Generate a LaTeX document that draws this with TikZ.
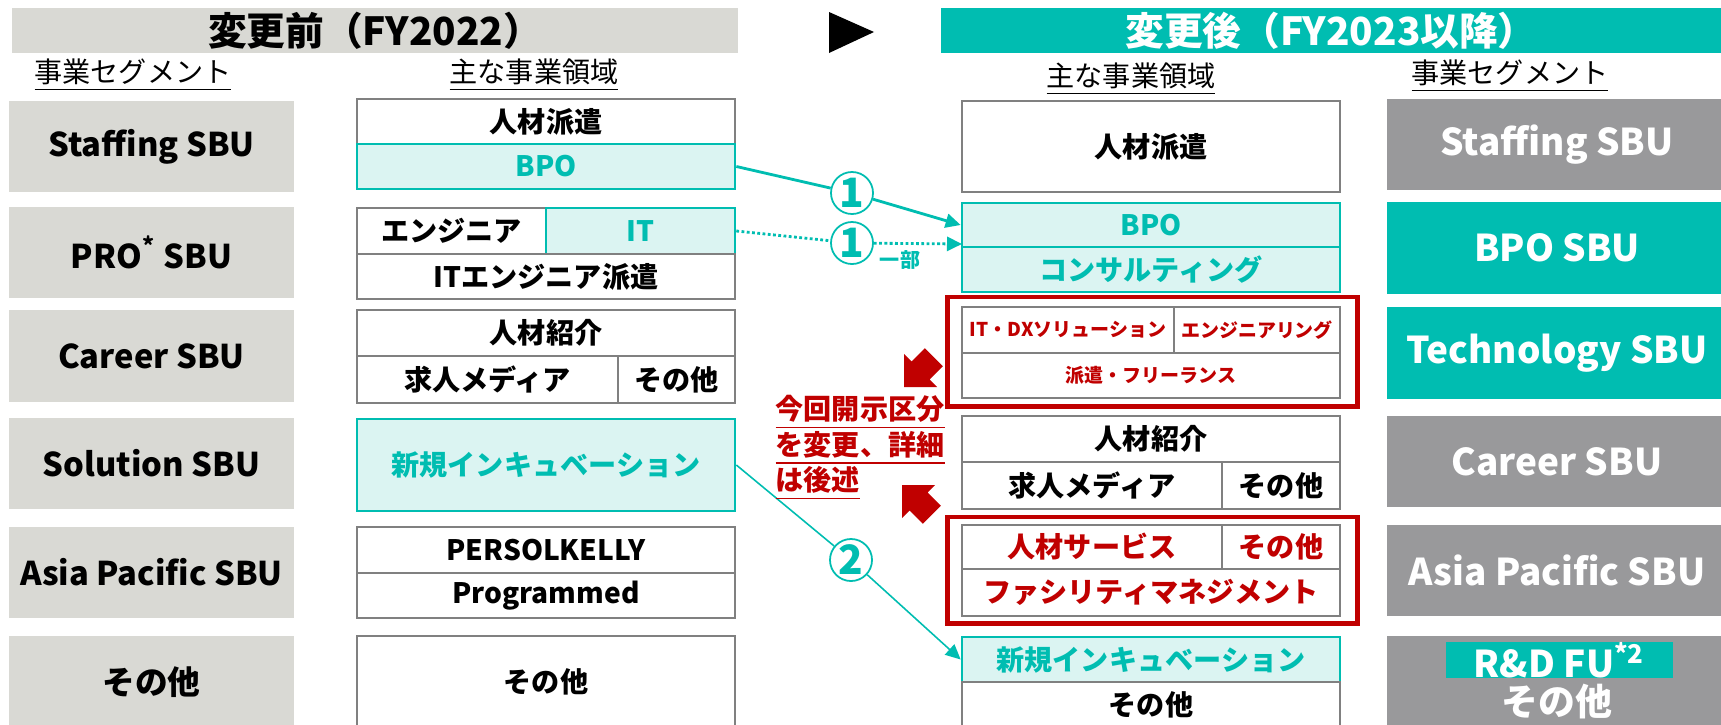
\documentclass[tikz,border=0pt]{standalone}
\usepackage{fontspec}
\setmainfont{Noto Sans CJK JP}
\usetikzlibrary{arrows.meta}
\definecolor{segfill}{RGB}{217,217,212}
\definecolor{segdark}{RGB}{153,153,155}
\definecolor{tealc}{RGB}{0,189,177}
\definecolor{teallt}{RGB}{219,244,242}
\definecolor{redc}{RGB}{192,0,0}
\definecolor{cellline}{RGB}{128,128,128}
\tikzset{
  lseg/.style={fill=segfill, inner sep=0pt, minimum width=2.85cm, minimum height=0.91cm, font=\fontsize{9.3}{11}\selectfont\bfseries},
  rseg/.style={fill=segdark, text=white, inner sep=0pt, minimum width=3.40cm, minimum height=0.91cm, font=\fontsize{10.5}{12}\selectfont\bfseries},
  cell/.style={draw=cellline, fill=white, line width=0.7pt, inner sep=0pt, font=\fontsize{8}{10}\selectfont\bfseries},
  tcell/.style={cell, draw=tealc, fill=teallt, text=tealc},
  rcell/.style={cell, text=redc},
  small/.style={font=\fontsize{5.4}{7}\selectfont\bfseries},
  frame/.style={draw=redc, line width=1.4pt, inner sep=0pt},
  hd/.style={inner sep=0pt, minimum height=0.45cm, font=\fontsize{11}{12}\selectfont\bfseries},
  subhd/.style={font=\fontsize{8}{10}\selectfont},
  num/.style={circle, draw=tealc, line width=0.5pt, fill=white, text=tealc, minimum size=0.42cm, inner sep=0pt, font=\fontsize{11.5}{11.5}\selectfont\bfseries},
  move/.style={draw=tealc, line width=0.8pt},
  tip/.style={-{Triangle[length=0.15cm,width=0.14cm]}}
}
\begin{document}
\begin{tikzpicture}[x=0.01cm, y=-0.01cm]
\useasboundingbox (0,0) rectangle (1721,724);
\clip (0,0) rectangle (1721,724);
%headers
\node[hd, fill=segfill, minimum width=7.26cm] (preHd) at (375,30.5) {変更前（FY2022）};
\node[hd, fill=tealc, text=white, minimum width=7.80cm] (postHd) at (1331,30.5) {変更後（FY2023以降）};
\fill (829,12) -- (874,32) -- (829,53) -- cycle;
\node[subhd] (segL) at (133,75) {\underline{事業セグメント}};
\node[subhd] (domL) at (534,75) {\underline{主な事業領域}};
\node[subhd] (domR) at (1131,79) {\underline{主な事業領域}};
\node[subhd] (segR) at (1510,76) {\underline{事業セグメント}};
%before: segments
\node[lseg] (sL1) at (151.5,146.5) {Staffing SBU};
\node[lseg] (sL2) at (151.5,252.5) {PRO\textsuperscript{*} SBU};
\node[lseg] (sL3) at (151.5,356) {Career SBU};
\node[lseg] (sL4) at (151.5,463.5) {Solution SBU};
\node[lseg] (sL5) at (151.5,572.5) {Asia Pacific SBU};
\node[lseg, minimum height=0.92cm] (sL6) at (151.5,682) {その他};
%before: domains
\node[cell, minimum width=3.78cm, minimum height=0.45cm] (haken) at (546,121.5) {人材派遣};
\node[tcell, minimum width=3.78cm, minimum height=0.45cm] (bpoL) at (546,166.5) {BPO};
\node[cell, minimum width=1.89cm, minimum height=0.46cm] (eng) at (451.5,231) {エンジニア};
\node[tcell, minimum width=1.89cm, minimum height=0.46cm] (itL) at (640.5,231) {IT};
\node[cell, minimum width=3.78cm, minimum height=0.45cm] (iteng) at (546,276.5) {ITエンジニア派遣};
\node[cell, minimum width=3.78cm, minimum height=0.46cm] (shokai) at (546,333) {人材紹介};
\node[cell, minimum width=2.61cm, minimum height=0.47cm] (media) at (487.5,379.5) {求人メディア};
\node[cell, minimum width=1.17cm, minimum height=0.47cm] (etcC) at (676.5,379.5) {その他};
\node[tcell, minimum width=3.78cm, minimum height=0.92cm] (incL) at (546,465) {新規インキュベーション};
\node[cell, minimum width=3.78cm, minimum height=0.46cm] (pk) at (546,550) {PERSOLKELLY};
\node[cell, minimum width=3.78cm, minimum height=0.45cm] (prog) at (546,595.5) {Programmed};
\node[cell, minimum width=3.78cm, minimum height=0.92cm] (etcL) at (546,682) {その他};
%after: domains
\node[cell, minimum width=3.78cm, minimum height=0.91cm] (hakenR) at (1151,146.5) {人材派遣};
\node[tcell, minimum width=3.78cm, minimum height=0.44cm] (bpoR) at (1151,225) {BPO};
\node[tcell, minimum width=3.78cm, minimum height=0.45cm] (consul) at (1151,269.5) {コンサルティング};
\node[frame, minimum width=4.09cm, minimum height=1.09cm] (techBox) at (1152.5,351.5) {};
\node[rcell, small, minimum width=2.12cm, minimum height=0.46cm] (itdx) at (1068,330) {IT・DXソリューション};
\node[rcell, small, minimum width=1.66cm, minimum height=0.46cm] (engR) at (1257,330) {エンジニアリング};
\node[rcell, small, minimum width=3.78cm, minimum height=0.45cm] (free) at (1151,375.5) {派遣・フリーランス};
\node[cell, minimum width=3.78cm, minimum height=0.46cm] (shokaiR) at (1151,439) {人材紹介};
\node[cell, minimum width=2.60cm, minimum height=0.47cm] (mediaR) at (1092,485.5) {求人メディア};
\node[cell, minimum width=1.18cm, minimum height=0.47cm] (etcCR) at (1281,485.5) {その他};
\node[frame, minimum width=4.09cm, minimum height=1.06cm] (apBox) at (1152.5,570) {};
\node[rcell, minimum width=2.60cm, minimum height=0.44cm] (jinzai) at (1092,547) {人材サービス};
\node[rcell, minimum width=1.18cm, minimum height=0.44cm] (etcA) at (1281,547) {その他};
\node[rcell, minimum width=3.78cm, minimum height=0.47cm] (fm) at (1151,592.5) {ファシリティマネジメント};
\node[tcell, minimum width=3.78cm, minimum height=0.45cm] (incR) at (1151,659.5) {新規インキュベーション};
\node[cell, minimum width=3.78cm, minimum height=0.45cm] (etcR) at (1151,704.5) {その他};
%after: segments
\node[rseg] (sR1) at (1557,144.5) {Staffing SBU};
\node[rseg, fill=tealc] (sR2) at (1557,248) {BPO SBU};
\node[rseg, fill=tealc] (sR3) at (1557,353) {Technology SBU};
\node[rseg] (sR4) at (1557,461.5) {Career SBU};
\node[rseg] (sR5) at (1557,570.5) {Asia Pacific SBU};
\node[rseg, minimum height=0.92cm] (sR6) at (1557,682) {};
\node[rseg, fill=tealc, minimum width=2.27cm, minimum height=0.36cm] (rnd) at (1559.5,660) {R\&D FU\textsuperscript{*2}};
\node[text=white, inner sep=0pt, font=\fontsize{10.5}{12}\selectfont\bfseries] (etcS) at (1557,702) {その他};
%moves
\node[num] (n1a) at (852,193) {1};
\node[num] (n1b) at (852,243) {1};
\node[num] (n2) at (851,560) {2};
\node[text=tealc, inner sep=0pt, font=\fontsize{5.7}{7}\selectfont\bfseries] (part) at (900,260) {一部};
\coordinate (bpoIn) at (962,244);
\draw[move] (bpoL.east) -- (n1a);
\draw[move, tip] (n1a) -- (bpoR.west);
\draw[move, dash pattern=on 0.8pt off 0.7pt] (itL.east) -- (n1b);
\draw[move, dash pattern=on 0.8pt off 0.7pt, tip] (n1b) -- (bpoIn);
\draw[move, line width=0.45pt] (incL.east) -- (n2);
\draw[move, line width=0.45pt, tip] (n2) -- (incR.west);
%note
\node[anchor=west, align=left, inner sep=0pt, text=redc, font=\fontsize{8}{10.1}\selectfont\bfseries] (note) at (775,448) {\underline{今回開示区分}\\\underline{を変更、詳細}\\\underline{は後述}};
\fill[redc] (904,387) -- (937.2,387) -- (929.6,379.4) -- (942.8,366.2) -- (924.8,348.2) -- (911.6,361.4) -- (904,353.8) -- cycle;
\fill[redc] (902,485) -- (935.2,485) -- (927.6,492.6) -- (940.8,505.8) -- (922.8,523.8) -- (909.6,510.6) -- (902,518.2) -- cycle;
\end{tikzpicture}
\end{document}
